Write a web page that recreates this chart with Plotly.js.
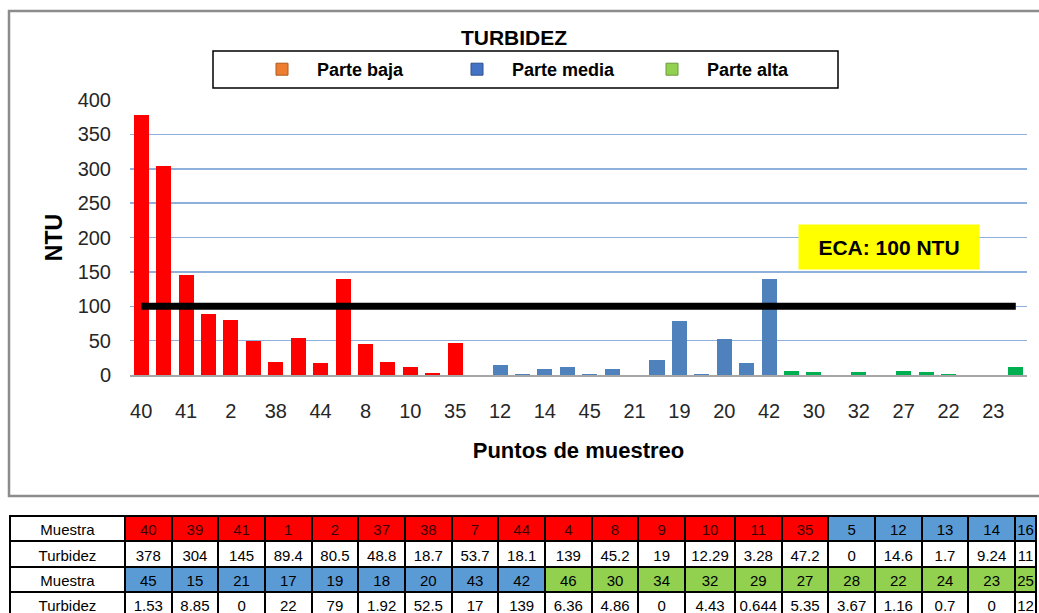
<!DOCTYPE html>
<html>
<head>
<meta charset="utf-8">
<script src="https://cdn.plot.ly/plotly-3.0.1.min.js"></script>
<style>
html, body { margin: 0; padding: 0; overflow: hidden; background: #fff; }
#chart { width: 1080px; height: 625px; }
</style>
</head>
<body>
<div id="chart"></div>
<script>
// ---- Data ----
const bajaSamples  = ["40","39","41","1","2","37","38","7","44","4","8","9","10","11","35"];
const bajaValues   = [378, 304, 145, 89.4, 80.5, 48.8, 18.7, 53.7, 18.1, 139, 45.2, 19, 12.29, 3.28, 47.2];
const mediaSamples = ["5","12","13","14","16","45","15","21","17","19","18","20","43","42"];
const mediaValues  = [0, 14.6, 1.7, 9.24, 11, 1.53, 8.85, 0, 22, 79, 1.92, 52.5, 17, 139];
const altaSamples  = ["46","30","34","32","29","27","28","22","24","23","25"];
const altaValues   = [6.36, 4.86, 0, 4.43, 0.644, 5.35, 3.67, 1.16, 0.7, 0, 12];
const seriesNames  = ["Parte baja", "Parte media", "Parte alta"];
const ecaLimit = 100;
const rowLabels = ["Muestra", "Turbidez"];

// ---- Styles ----
const W = 1080, H = 625;
const px = x => x / W;
const py = y => 1 - y / H;
const barColors    = ["#FF0000", "#4F81BD", "#00B050"];
const legendColors = ["#ED7D31", "#4472C4", "#92D050"];
const legendLines  = ["#AE5A21", "#2F528F", "#6A9A3A"];
const cellColors   = ["#FF0000", "#5B9BD5", "#92D050"];
const narrow = "Liberation Sans Narrow, Arial Narrow, Liberation Sans, Arial, sans-serif";
const body = "Liberation Sans, Arial, sans-serif";

const allSamples = bajaSamples.concat(mediaSamples, altaSamples);
const allValues  = bajaValues.concat(mediaValues, altaValues);
const groupOf = allSamples.map((s, i) => i < bajaSamples.length ? 0 : (i < bajaSamples.length + mediaSamples.length ? 1 : 2));

const traces = [];
[[bajaSamples, bajaValues], [mediaSamples, mediaValues], [altaSamples, altaValues]].forEach((d, k) => {
  traces.push({
    type: "bar", x: d[0], y: d[1], name: seriesNames[k], showlegend: false,
    marker: { color: barColors[k] }, hoverinfo: "x+y"
  });
});
// legend entries (legend colours differ from the bars in the original)
seriesNames.forEach((n, k) => {
  traces.push({
    type: "bar", x: [null], y: [null], name: "\u00A0\u00A0\u00A0" + n, showlegend: true,
    marker: { color: legendColors[k], line: { color: legendLines[k], width: 1 } }
  });
});
// ECA limit line
traces.push({
  type: "scatter", mode: "lines",
  x: [allSamples[0], allSamples[allSamples.length - 1]], y: [ecaLimit, ecaLimit],
  line: { color: "#000000", width: 7 }, showlegend: false, hoverinfo: "skip"
});

// ---- Table (two blocks of 20 samples) ----
const half = 20;
const blocks = [0, 1].map(b => ({
  s: allSamples.slice(b * half, (b + 1) * half),
  v: allValues.slice(b * half, (b + 1) * half),
  g: groupOf.slice(b * half, (b + 1) * half)
}));
const headerVals = [rowLabels[0]].concat(blocks[0].s);
const cellVals = [[rowLabels[1], rowLabels[0], rowLabels[1]]].concat(
  blocks[0].s.map((_, i) => [String(blocks[0].v[i]), blocks[1].s[i], String(blocks[1].v[i])])
);
const headerFill = ["#FFFFFF"].concat(blocks[0].g.map(g => cellColors[g]));
const cellFill = [["#FFFFFF", "#FFFFFF", "#FFFFFF"]].concat(
  blocks[1].g.map(g => ["#FFFFFF", cellColors[g], "#FFFFFF"])
);
const colW = [115].concat(blocks[0].s.map((_, i) => i === 12 ? 50 : (i === half - 1 ? 21 : 46.7)));
const tableW = colW.reduce((a, b) => a + b, 0);
const rowH = 25.3;
traces.push({
  type: "table",
  domain: { x: [px(10), px(10 + tableW)], y: [py(621), py(516)] },
  columnwidth: colW,
  header: {
    values: headerVals, height: rowH, align: "center",
    fill: { color: headerFill }, line: { color: "#000000", width: 2 },
    font: { family: body, size: 15, color: ["#000000"].concat(blocks[0].g.map(g => g === 0 ? "#3A0000" : "#000000")) }
  },
  cells: {
    values: cellVals, height: rowH, align: "center",
    fill: { color: cellFill }, line: { color: "#000000", width: 2 },
    font: { family: body, size: 15, color: "#000000" }
  }
});

const layout = {
  width: W, height: H,
  margin: { l: 0, r: 0, t: 0, b: 0 },
  paper_bgcolor: "#FFFFFF", plot_bgcolor: "#FFFFFF",
  barmode: "stack", bargap: 0.33,
  title: {
    text: "<b>TURBIDEZ</b>", x: px(514), xanchor: "center", y: py(38), yanchor: "middle",
    xref: "paper", yref: "paper", font: { family: narrow, size: 21, color: "#000000" }
  },
  showlegend: true,
  legend: {
    orientation: "h", x: px(262), xanchor: "left", y: py(69.5), yanchor: "middle",
    bgcolor: "rgba(0,0,0,0)", borderwidth: 0, entrywidth: 150, entrywidthmode: "pixels",
    font: { family: narrow, size: 18, color: "#000000", weight: "bold" },
    traceorder: "normal"
  },
  xaxis: {
    domain: [px(130), px(1027)], type: "category",
    categoryorder: "array", categoryarray: allSamples,
    tickmode: "array", tickvals: allSamples.filter((_, i) => i % 2 === 0),
    tickfont: { family: body, size: 20, color: "#262626" },
    ticks: "", ticklabelstandoff: 17,
    showline: true, linecolor: "#A6A6A6", linewidth: 2, showgrid: false, zeroline: false,
    title: { text: "<b>Puntos de muestreo</b>", font: { family: narrow, size: 22, color: "#000000" }, standoff: 22 },
    fixedrange: true
  },
  yaxis: {
    domain: [py(375), py(100)], range: [0, 400], dtick: 50, tick0: 0,
    tickfont: { family: body, size: 20, color: "#262626" },
    ticks: "", ticklabelstandoff: 18,
    showgrid: true, gridcolor: "#8DB0DC", gridwidth: 1.5, zeroline: false, showline: false,
    title: { text: "<b>NTU</b>", font: { family: narrow, size: 23, color: "#000000" }, standoff: 8 },
    fixedrange: true
  },
  shapes: [
    { type: "rect", xref: "paper", yref: "paper", x0: px(9), x1: px(1075), y0: py(496), y1: py(11),
      line: { color: "#8C8C8C", width: 2.5 }, fillcolor: "rgba(0,0,0,0)", layer: "below" },
    { type: "rect", xref: "paper", yref: "paper", x0: px(213), x1: px(838), y0: py(88), y1: py(51),
      line: { color: "#000000", width: 1.5 }, fillcolor: "rgba(0,0,0,0)" }
  ],
  annotations: [
    { text: "<b>ECA: " + ecaLimit + " NTU</b>", xref: "paper", yref: "paper",
      x: px(889), y: py(247), xanchor: "center", yanchor: "middle", showarrow: false,
      width: 178, height: 42, bgcolor: "#FFFF00",
      font: { family: narrow, size: 21, color: "#000000" } }
  ]
};

Plotly.newPlot("chart", traces, layout, { displayModeBar: false, staticPlot: true });
</script>
</body>
</html>
